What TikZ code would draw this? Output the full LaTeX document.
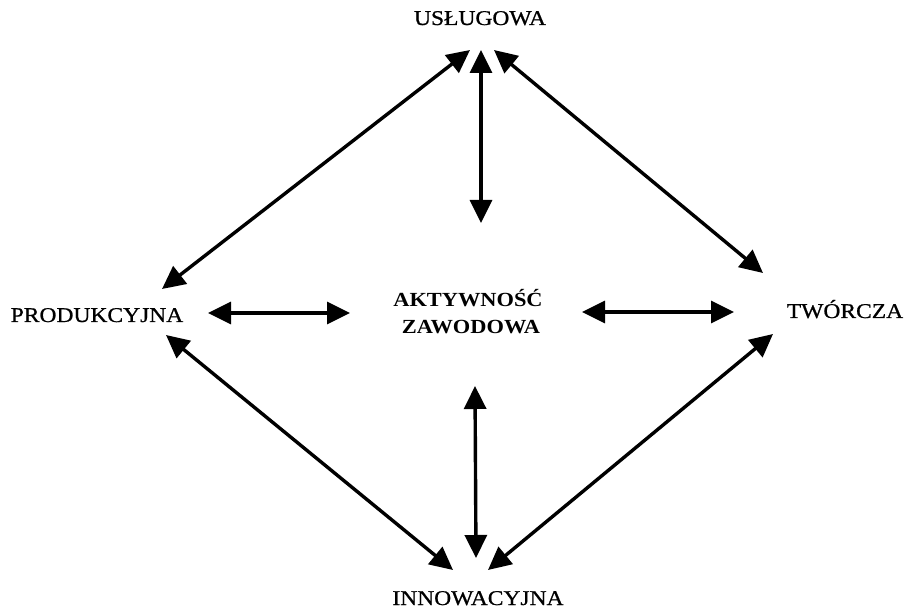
\documentclass[tikz,border=0pt]{standalone}
\usepackage{fontspec}
\setmainfont{Liberation Serif}[FakeStretch=1.12]
\newfontfamily\lblfont{Liberation Serif}[FakeStretch=1.12,FakeBold=0.8]
\usetikzlibrary{arrows.meta}
\tikzset{
  lbl/.style={inner sep=0pt, anchor=base, font=\lblfont\fontsize{21}{24}\selectfont},
  ctr/.style={inner sep=0pt, anchor=base, font=\fontsize{20}{24}\selectfont\bfseries},
  biarrow/.style={line width=3.4pt, {Triangle[length=23pt,width=22pt]}-{Triangle[length=23pt,width=22pt]}}
}
\begin{document}
\begin{tikzpicture}[x=1pt,y=-1pt]
\useasboundingbox (0,0) rectangle (907,609);
\node[lbl] (usl) at (480,25) {USŁUGOWA};
\node[lbl] (prod) at (97,322) {PRODUKCYJNA};
\node[lbl] (twor) at (845,318) {TWÓRCZA};
\node[lbl] (inno) at (478,605) {INNOWACYJNA};
\node[ctr] (akt) at (468,307) {AKTYWNOŚĆ};
\node[ctr] (zaw) at (471,334) {ZAWODOWA};
% arrow end points
\coordinate (tlA) at (162,289); \coordinate (tlB) at (470,50);
\coordinate (tvA) at (481,50);  \coordinate (tvB) at (481,223);
\coordinate (trA) at (494,50);  \coordinate (trB) at (763,273);
\coordinate (lhA) at (208,313); \coordinate (lhB) at (350,313);
\coordinate (rhA) at (582,312); \coordinate (rhB) at (734,312);
\coordinate (blA) at (166,335); \coordinate (blB) at (453,570);
\coordinate (bvA) at (475,386); \coordinate (bvB) at (476,558);
\coordinate (brA) at (488,570); \coordinate (brB) at (773,334);
\draw[biarrow] (tlA) -- (tlB);
\draw[biarrow] (tvA) -- (tvB);
\draw[biarrow] (trA) -- (trB);
\draw[biarrow] (lhA) -- (lhB);
\draw[biarrow] (rhA) -- (rhB);
\draw[biarrow] (blA) -- (blB);
\draw[biarrow] (bvA) -- (bvB);
\draw[biarrow] (brA) -- (brB);
\end{tikzpicture}
\end{document}
